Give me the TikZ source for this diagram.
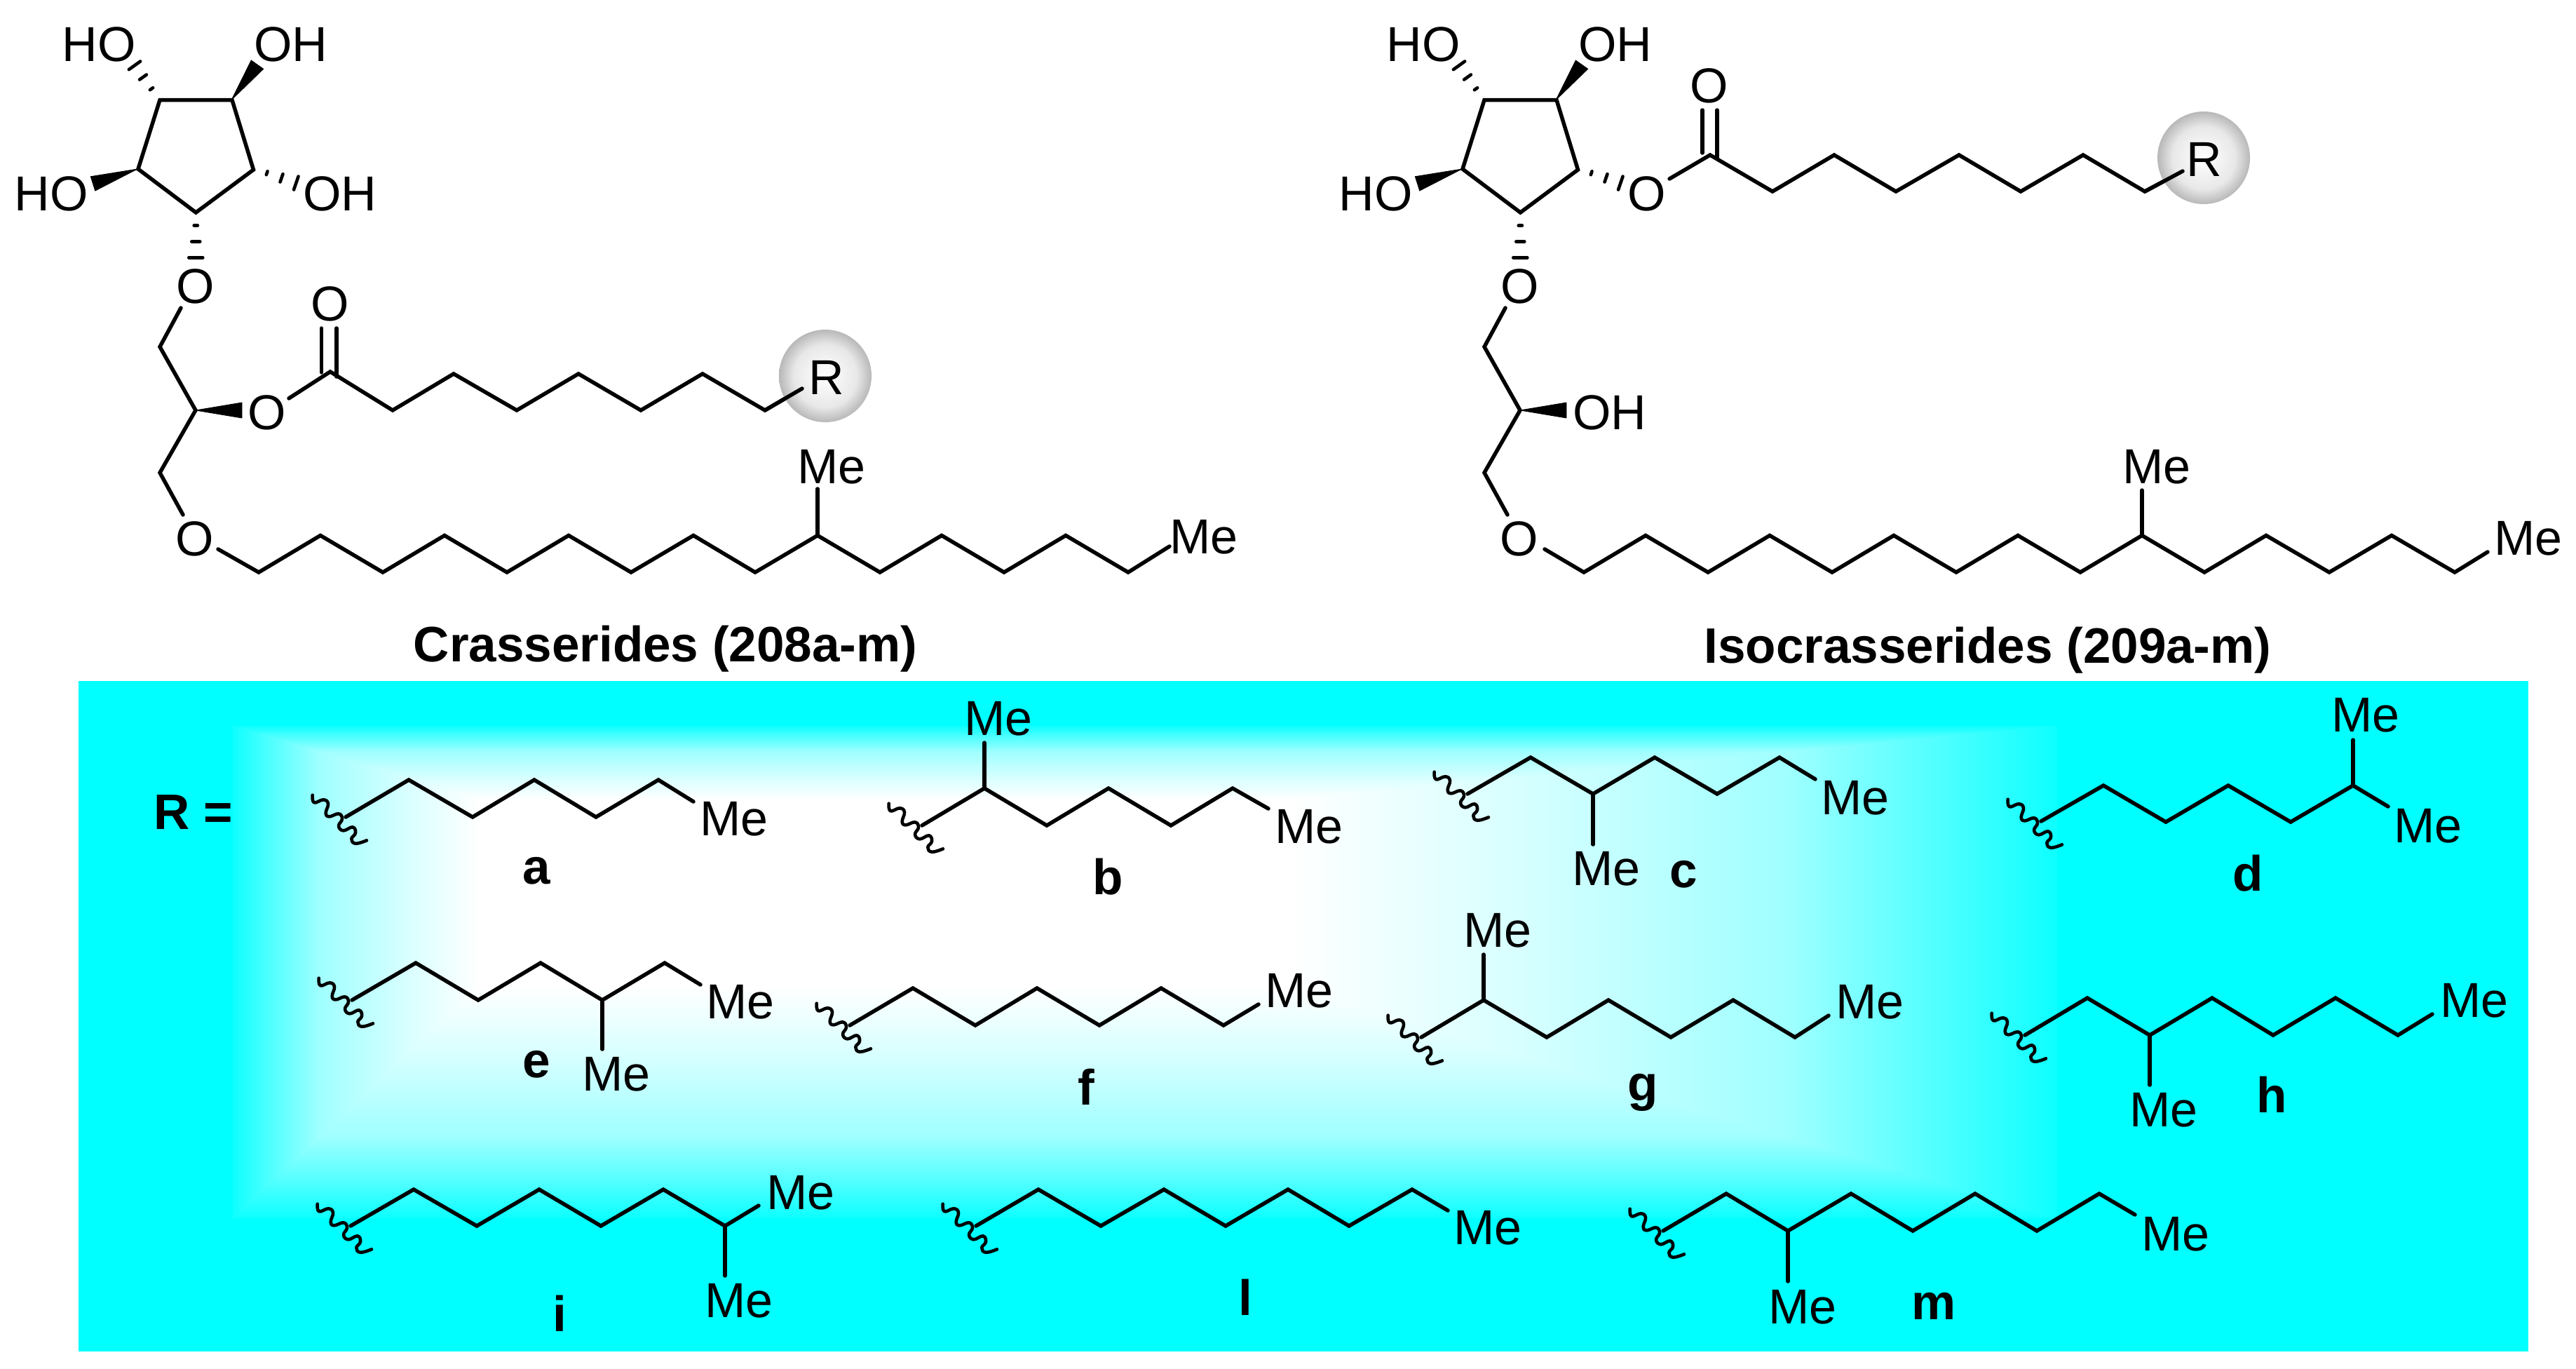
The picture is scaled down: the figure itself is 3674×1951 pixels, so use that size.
\documentclass[tikz,border=0pt]{standalone}
\usepackage{fontspec}
\setmainfont{Liberation Sans}
\usetikzlibrary{calc}
\definecolor{panelcyan}{RGB}{0,255,255}
\definecolor{ballrim}{RGB}{184,184,184}
\definecolor{ballmid}{RGB}{232,232,232}
\pgfdeclareradialshading{rball}{\pgfpoint{0bp}{0bp}}{color(0bp)=(white); color(17bp)=(ballmid); color(25bp)=(ballrim); color(50bp)=(ballrim)}
\tikzset{
  bond/.style={line width=2.75pt,line cap=round,line join=miter,miter limit=10},
  hashbar/.style={line width=2.3pt,line cap=round},
  wedgeb/.style={fill=black,draw=black,line width=.4pt,line join=miter},
  wavyb/.style={line width=2.3pt,line cap=round,line join=round},
  atom/.style={inner sep=0pt,font=\fontsize{35}{38}\selectfont},
  tag/.style={inner sep=0pt,font=\fontsize{35.5}{38}\selectfont\bfseries},
}
\newcommand\hashbond[2]{\coordinate (hashend) at ($#1!2!#2$);\foreach \t/\h in {0/1.3pt,.5/3pt,1/5pt}{\draw[hashbar] ($#1!\t!#2!\h!90:(hashend)$) -- ($#1!\t!#2!\h!-90:(hashend)$);}}
\newcommand\wavy[2]{\draw[wavyb,shift={(#1,#2)}] plot[smooth,tension=.75] coordinates {(-47.3,-31.3) (-45,-20.7) (-31.7,-24.7) (-25,-19) (-28.3,-5.7) (-23.3,-.7) (-10,-4.7) (-5,2.7) (-10,12.7) (-3.3,19.3) (10,14.3) (14,22.7) (8.3,31) (14,37.7) (30,33.3)};}
\newcommand\ringpart[2]{%
\begin{scope}[shift={(#1,0)}]
  \draw[bond] (228,142.5) -- (331,142.5) -- (361.5,242) -- (279.4,303) -- (197,241) -- cycle;
  \node[atom] (#2ho1) at (141,63) {HO};
  \node[atom] (#2oh1) at (415,63) {OH};
  \node[atom] (#2ho2) at (73,276) {HO};
  \hashbond{(216,126.7)}{(192,93.3)}
  \fill[wedgeb] (330,142.7) -- (358.3,86) -- (375.7,98.3) -- cycle;
  \fill[wedgeb] (196,241) -- (129.3,251.7) -- (135.7,272) -- cycle;
  \hashbond{(380.7,246.7)}{(422.3,261)}
  \hashbond{(279.3,321.7)}{(279.3,367.3)}
  \node[atom] (#2o1) at (279,408) {O};
  \draw[bond] (258,439) -- (228,494.5) -- (279,585) -- (228,674) -- (261,734);
  \node[atom] (#2o2) at (278,768) {O};
  \fill[wedgeb] (279,585) -- (345,574) -- (345,596) -- cycle;
\end{scope}}
\begin{document}
\begin{tikzpicture}[x=.5pt,y=-.5pt]
\useasboundingbox (0,0) rectangle (3674,1951);
% panel with a rectangular path gradient
\fill[panelcyan] (112,971) rectangle (3606,1927);
\foreach \i in {0,...,110}{
  \pgfmathsetmacro\f{\i/110}
  \pgfmathsetmacro\rv{int(\f<.15 ? 16+\f/.15*64 : (\f<.35 ? 80+(\f-.15)/.2*80 : (\f<.7 ? 160+(\f-.35)/.35*55 : 215+(\f-.7)/.3*40)))}
  \definecolor{gradstep}{RGB}{\rv,255,255}
  \fill[gradstep] ({332+348*\f},{1035+105*\f}) rectangle ({2934-1084*\f},{1737-327*\f});
}
% left molecule
\ringpart{0}{a}
\node[atom] (aoh2) at (485,276) {OH};
\node[atom] (ao3) at (381,588) {O};
\draw[bond] (412,568) -- (471,530) -- (560,585) -- (647,533) -- (737,585) -- (825,533) -- (914,585) -- (1002,533) -- (1091,585) -- (1144,554);
\draw[bond] (458.5,468) -- (458.5,531) (480,468) -- (480,537);
\node[atom] (ao4) at (471,433) {O};
\shade[shading=rball] (1177,536) circle[radius=66];
\draw[bond] (1091,585) -- (1144,554);
\node[atom] (ar) at (1179,538) {R};
\draw[bond] (311,783) -- (369,816) -- (457,763.5) -- (546,816) -- (634,763.5) -- (723,816) -- (811,763.5) -- (900,816) -- (989,763.5) -- (1077,816) -- (1166,763.5) -- (1255,816) -- (1343,763.5) -- (1432,816) -- (1520,763.5) -- (1609,816) -- (1668,779);
\draw[bond] (1166,763.5) -- (1166,697);
\node[atom] (ame1) at (1186,666) {Me};
\node[atom] (ame2) at (1717,766) {Me};
\node[tag] (titleA) at (949,925) {Crasserides (208a-m)};
% right molecule
\ringpart{1889}{b}
\node[atom] (bo3) at (2349,276) {O};
\draw[bond] (2381,255) -- (2439,221) -- (2528,273) -- (2616,221) -- (2704,273) -- (2794,221) -- (2882,273) -- (2971,221) -- (3059,273) -- (3113,244);
\draw[bond] (2428,157) -- (2428,218) (2449,157) -- (2449,226);
\node[atom] (bo4) at (2438,122) {O};
\shade[shading=rball] (3143,225) circle[radius=66];
\draw[bond] (3059,273) -- (3113,244);
\node[atom] (br) at (3144,227) {R};
\node[atom] (boh) at (2296,588) {OH};
\draw[bond] (2203,783) -- (2259,816) -- (2347,763.5) -- (2436,816) -- (2524,763.5) -- (2613,816) -- (2701,763.5) -- (2790,816) -- (2878,763.5) -- (2967,816) -- (3055,763.5) -- (3144,816) -- (3232,763.5) -- (3322,816) -- (3411,763.5) -- (3501,816) -- (3548,787);
\draw[bond] (3055,763.5) -- (3055,699);
\node[atom] (bme1) at (3076,666) {Me};
\node[atom] (bme2) at (3606,768) {Me};
\node[tag] (titleB) at (2835,927) {Isocrasserides (209a-m)};
% R label
\node[tag] (rlabel) at (276,1158) {R =};
% a
\wavy{493}{1165}
\draw[bond] (493,1165) -- (583,1112) -- (674,1165) -- (762,1112) -- (850,1165) -- (939,1112) -- (989,1143);
\node[atom] (mea) at (1047,1168) {Me};
\node[tag] (la) at (765,1242) {a};
% b
\wavy{1315}{1177}
\draw[bond] (1315,1177) -- (1404,1124) -- (1493,1177) -- (1581,1124) -- (1670,1177) -- (1758,1124) -- (1809,1153);
\draw[bond] (1404,1124) -- (1404,1059);
\node[atom] (meb1) at (1424,1025) {Me};
\node[atom] (meb2) at (1867,1179) {Me};
\node[tag] (lb) at (1580,1250) {b};
% c
\wavy{2093}{1132}
\draw[bond] (2093,1132) -- (2183,1080) -- (2272,1132) -- (2360,1080) -- (2449,1132) -- (2538,1080) -- (2589,1111);
\draw[bond] (2272,1132) -- (2272,1204);
\node[atom] (mec1) at (2291,1239) {Me};
\node[atom] (mec2) at (2646,1138) {Me};
\node[tag] (lc) at (2401,1247) {c};
% d
\wavy{2911}{1171}
\draw[bond] (2911,1171) -- (3000,1120) -- (3089,1172) -- (3178,1120) -- (3267,1172) -- (3356,1120) -- (3406,1150);
\draw[bond] (3356,1120) -- (3356,1055);
\node[atom] (med1) at (3374,1020) {Me};
\node[atom] (med2) at (3463,1178) {Me};
\node[tag] (ld) at (3206,1245) {d};
% e
\wavy{502}{1426}
\draw[bond] (502,1426) -- (593,1373) -- (682,1426) -- (771,1373) -- (859,1426) -- (948,1373) -- (999,1404);
\draw[bond] (859,1426) -- (859,1496);
\node[atom] (mee1) at (1056,1429) {Me};
\node[atom] (mee2) at (879,1532) {Me};
\node[tag] (le) at (765,1518) {e};
% f
\wavy{1212}{1462}
\draw[bond] (1212,1462) -- (1302,1409) -- (1391,1462) -- (1479,1409) -- (1568,1462) -- (1656,1409) -- (1745,1462) -- (1795,1432);
\node[atom] (mef) at (1853,1413) {Me};
\node[tag] (lf) at (1549,1550) {f};
% g
\wavy{2027}{1479}
\draw[bond] (2027,1479) -- (2116,1426) -- (2206,1479) -- (2294,1426) -- (2383,1479) -- (2472,1426) -- (2560,1479) -- (2608,1448);
\draw[bond] (2116,1426) -- (2116,1361);
\node[atom] (meg1) at (2136,1327) {Me};
\node[atom] (meg2) at (2667,1429) {Me};
\node[tag] (lg) at (2343,1558) {g};
% h
\wavy{2888}{1476}
\draw[bond] (2888,1476) -- (2977,1423) -- (3066,1476) -- (3155,1423) -- (3242,1476) -- (3331,1423) -- (3420,1476) -- (3469,1446);
\draw[bond] (3066,1476) -- (3066,1547);
\node[atom] (meh1) at (3529,1427) {Me};
\node[atom] (meh2) at (3086,1583) {Me};
\node[tag] (lh) at (3240,1561) {h};
% i
\wavy{500}{1748}
\draw[bond] (500,1748) -- (590,1696) -- (680,1748) -- (769,1696) -- (857,1748) -- (946,1696) -- (1034,1748) -- (1082,1719);
\draw[bond] (1034,1748) -- (1034,1819);
\node[atom] (mei1) at (1142,1701) {Me};
\node[atom] (mei2) at (1054,1855) {Me};
\node[tag] (li) at (798,1873) {i};
% l
\wavy{1392}{1748}
\draw[bond] (1392,1748) -- (1481,1696) -- (1570,1748) -- (1660,1696) -- (1748,1748) -- (1837,1696) -- (1924,1748) -- (2014,1696) -- (2065,1726);
\node[atom] (mel) at (2122,1751) {Me};
\node[tag] (ll) at (1776,1850) {l};
% m
\wavy{2372}{1755}
\draw[bond] (2372,1755) -- (2462,1702) -- (2550,1755) -- (2640,1702) -- (2728,1755) -- (2817,1702) -- (2905,1755) -- (2994,1702) -- (3045,1732);
\draw[bond] (2550,1755) -- (2550,1827);
\node[atom] (mem1) at (3103,1760) {Me};
\node[atom] (mem2) at (2571,1864) {Me};
\node[tag] (lm) at (2758,1862) {m};
\end{tikzpicture}
\end{document}
